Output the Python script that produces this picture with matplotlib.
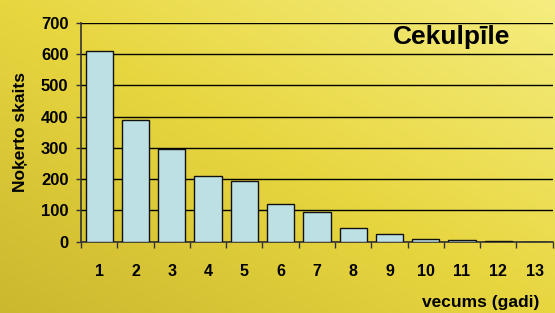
import numpy as np
import matplotlib
matplotlib.use("Agg")
import matplotlib.pyplot as plt

plt.rcParams['font.family'] = ['Liberation Sans', 'DejaVu Sans']

categories = ["1", "2", "3", "4", "5", "6", "7", "8", "9", "10", "11", "12", "13"]
values = [610, 390, 297, 210, 194, 121, 94, 45, 25, 9, 4, 3, 0]
yticks = [0, 100, 200, 300, 400, 500, 600, 700]

fig = plt.figure(figsize=(5.55, 3.13), dpi=100)

# background gradient
bg = fig.add_axes([0, 0, 1, 1])
h, w = 313, 555
yy, xx = np.mgrid[0:h, 0:w]
t = (xx / w) * 0.5 + (1 - yy / h) * 0.5
light = np.array([0.96, 0.93, 0.50])
mid = np.array([0.91, 0.84, 0.25])
dark = np.array([0.80, 0.72, 0.18])
tt = t[..., None]
img = np.where(tt > 0.5, mid + (light - mid) * ((tt - 0.5) / 0.5), dark + (mid - dark) * (tt / 0.5))
bg.imshow(img, aspect="auto", extent=[0, 1, 0, 1], origin="upper")
bg.axis("off")

ax = fig.add_axes([0.146, 0.228, 0.85, 0.699])
ax.patch.set_alpha(0)
x = np.arange(len(categories))
ax.bar(x, values, width=0.75, color="#bde0e4", edgecolor="#111111", linewidth=1.0, zorder=3)
ax.set_xlim(-0.5, len(categories) - 0.5)
ax.set_ylim(0, 700)
ax.set_yticks(yticks)
ax.set_yticklabels([str(v) for v in yticks], fontsize=12, fontweight="bold")
ax.yaxis.grid(True, color="black", linewidth=1.0, zorder=1)
ax.set_axisbelow(True)
ax.set_xticks(x)
ax.set_xticklabels(categories, fontsize=11.5, fontweight="bold")
ax.tick_params(axis="x", length=0, pad=16)
ax.set_xticks(np.arange(len(categories) + 1) - 0.5, minor=True)
ax.tick_params(axis="x", which="minor", length=4, width=1, color="#333333")
ax.tick_params(axis="y", length=3.6, width=1, color="#333333", pad=5.5)
for s in ["top", "right"]:
    ax.spines[s].set_visible(False)
ax.spines["left"].set_color("#333333")
ax.spines["bottom"].set_color("#333333")
ax.spines["left"].set_linewidth(1.2)
ax.spines["bottom"].set_linewidth(1.2)

ax.set_ylabel("Noķerto skaits", fontsize=12.5, fontweight="bold", labelpad=9)
fig.text(0.971, 0.032, "vecums (gadi)", fontsize=12.5, fontweight="bold", ha="right", va="center")
ax.text(0.909, 0.935, "Cekulpīle", transform=ax.transAxes, fontsize=19, fontweight="bold", ha="right", va="center")

fig.savefig("out.png", dpi=100)
